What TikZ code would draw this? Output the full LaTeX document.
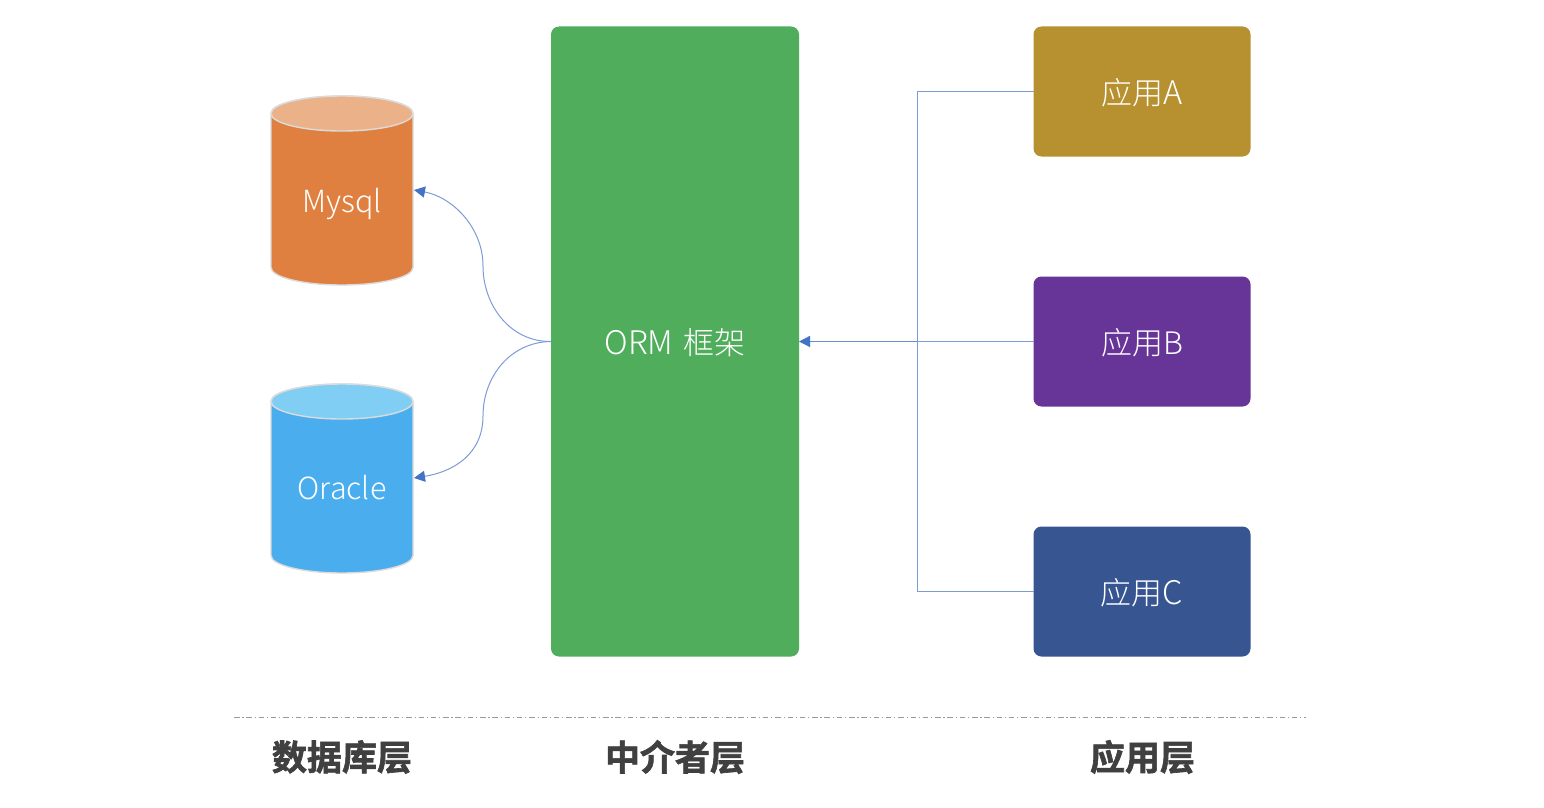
\documentclass[tikz,border=0pt]{standalone}
\usepackage{fontspec}
\usetikzlibrary{arrows.meta}
\setmainfont[UprightFont=* Light,BoldFont=* Bold]{Noto Sans CJK SC}
\newfontfamily\heavyfont[FakeBold=1.8]{Noto Sans CJK SC Bold}
\definecolor{cgreen}{HTML}{4FAD5B}
\definecolor{corange}{HTML}{E08040}
\definecolor{corangetop}{HTML}{EBB28A}
\definecolor{cblue}{HTML}{4AAEEE}
\definecolor{cbluetop}{HTML}{80CEF4}
\definecolor{cgold}{HTML}{B79030}
\definecolor{cpurple}{HTML}{673498}
\definecolor{cnavy}{HTML}{365591}
\definecolor{cline}{HTML}{7F9BD6}
\definecolor{carrow}{HTML}{4472C4}
\newcommand{\dbdrum}[4]{% x, top y, body colour, top colour
  \draw[cylline,fill=#3] (#1-71,#2+17.5) -- (#1-71,#2+171.5) arc[start angle=180,end angle=360,x radius=71,y radius=-17.5]
     -- (#1+71,#2+17.5) arc[start angle=0,end angle=180,x radius=71,y radius=-17.5] -- cycle;
  \draw[cylline,fill=#4] (#1,#2+17.5) ellipse[x radius=71,y radius=17.5];
}
\tikzset{
  box/.style={rounded corners=8pt,text=white,font=\fontsize{31}{31}\selectfont,inner sep=0pt,outer sep=0pt,align=center,text depth=0pt,text height=26pt},
  appbox/.style={box,minimum width=217pt,minimum height=130pt},
  cylline/.style={draw=black!14,line width=1.4pt},
  dbtext/.style={text=white,font=\fontsize{30.5}{30.5}\selectfont,inner sep=0pt,outer sep=0pt,minimum width=142pt,text height=26pt,text depth=0pt},
  conn/.style={draw=cline,line width=1pt},
  tip/.style={-{Triangle[length=11pt,width=11pt,color=carrow,fill=carrow]}},
  layer/.style={text=black!75,font=\heavyfont\fontsize{35}{35}\selectfont,inner sep=0pt},
}
\begin{document}
\begin{tikzpicture}[x=1pt,y=-1pt]
\useasboundingbox (0,0) rectangle (1544,808);
\fill[white] (0,0) rectangle (1544,808);
\node[box,fill=cgreen,minimum width=248pt,minimum height=630pt] (orm) at (675,341.5) {\fontsize{32.5}{32}\selectfont ORM\hspace{3pt} \fontsize{31}{31}\selectfont 框架};
\node[appbox,fill=cgold] (appa) at (1142,91.5) {应用\fontsize{32.5}{31}\selectfont A};
\node[appbox,fill=cpurple] (appb) at (1142,341.5) {应用B};
\node[appbox,fill=cnavy] (appc) at (1142,591.5) {应用\fontsize{32.5}{31}\selectfont C};
\dbdrum{342}{96}{corange}{corangetop}
\dbdrum{342}{384}{cblue}{cbluetop}
\node[dbtext] (mysql) at (342,199) {Mysql};
\node[dbtext] (oracle) at (342,486.5) {Oracle};
\coordinate (midm) at (483,266);
\coordinate (mido) at (483,416);
\coordinate (trunk) at (917,342);
\coordinate (mysqlend) at (414,190);
\coordinate (oracleend) at (414,478);
\draw[conn,tip] (orm.west) .. controls (510,342) and (483,305) .. (midm) .. controls (483,227) and (452,197) .. (mysqlend);
\draw[conn,tip] (orm.west) .. controls (510,342) and (483,377) .. (mido) .. controls (483,455) and (452,472) .. (oracleend);
\draw[conn] (appa.west) -- (appa.west -| trunk) -- (appc.west -| trunk) -- (appc.west);
\draw[conn] (appb.west) -- (appb.west -| trunk);
\draw[draw=carrow!80!white,line width=1.3pt,tip] (appb.west -| trunk) -- (orm.east);
\coordinate (divl) at (234,717.5);
\coordinate (divr) at (1306,717.5);
\draw[black!40,line width=0.8pt,dash pattern=on 5.5pt off 2.8pt on 1.2pt off 2.8pt] (divl) -- (divr);
\node[layer] (ldb) at (342,757) {数据库层};
\node[layer] (lmid) at (675,757) {中介者层};
\node[layer] (lapp) at (1142.5,757) {应用层};
\end{tikzpicture}
\end{document}
